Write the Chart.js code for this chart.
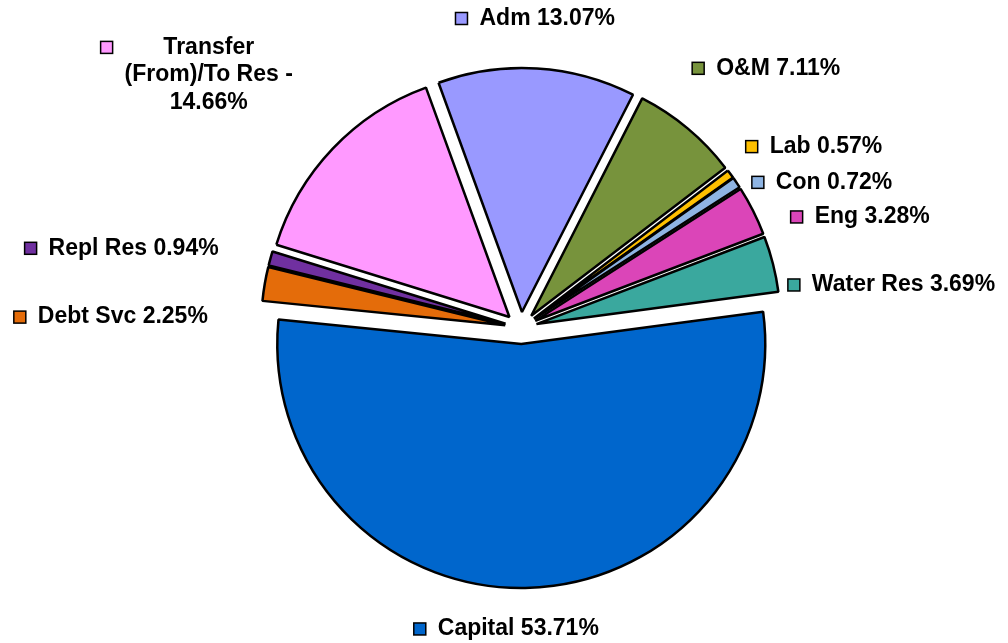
<!DOCTYPE html>
<html>
<head>
<meta charset="utf-8">
<script src="https://cdn.jsdelivr.net/npm/chart.js@4.4.1/dist/chart.umd.min.js"></script>
<style>
  html, body { margin: 0; padding: 0; background: #fff; }
  #wrap { width: 1008px; height: 643px; position: relative; }
</style>
</head>
<body>
<div id="wrap"><canvas id="pie"></canvas></div>
<script>
const categories = ['Adm', 'O&M', 'Lab', 'Con', 'Eng', 'Water Res', 'Capital', 'Debt Svc', 'Repl Res', 'Transfer (From)/To Res -'];
const shares = [13.07, 7.11, 0.57, 0.72, 3.28, 3.69, 53.71, 2.25, 0.94, 14.66];
const sliceColors = ['#9999FF', '#77933C', '#FFC000', '#8EB4E3', '#DB45B8', '#3AA89E', '#0066CC', '#E46C0A', '#7030A0', '#FF99FF'];

// labels were dragged around by hand in the original, so nudge them (px)
const labelNudge = [[-2, -46], [2, -57], [12, -25], [12, 2], [34, 8], [11, 22], [-19, 37], [-53, 34], [-48, -9], [-37, -71]];

const FONT = 'bold 23px "Liberation Sans", Arial, sans-serif';
const LINE_H = 27.5;

/* pull every slice out from the middle */
const explodePie = {
  id: 'explodePie',
  beforeDatasetDraw(chart, args, opts) {
    const ctx = chart.ctx;
    args.meta.data.forEach(arc => {
      const mid = (arc.startAngle + arc.endAngle) / 2;
      ctx.save();
      ctx.translate(Math.cos(mid) * opts.distance, Math.sin(mid) * opts.distance);
      arc.draw(ctx);
      ctx.restore();
    });
    return false;
  }
};

function wrapText(ctx, text, maxW) {
  const words = text.split(' ');
  const lines = [];
  let cur = '';
  words.forEach(w => {
    const test = cur ? cur + ' ' + w : w;
    if (cur && ctx.measureText(test).width > maxW) {
      lines.push(cur);
      cur = w;
    } else {
      cur = test;
    }
  });
  if (cur) lines.push(cur);
  return lines;
}

/* outside labels with a little legend key in front */
const outsideLabels = {
  id: 'outsideLabels',
  afterDatasetsDraw(chart, args, opts) {
    const ctx = chart.ctx;
    const meta = chart.getDatasetMeta(0);
    ctx.save();
    ctx.font = FONT;
    ctx.textBaseline = 'middle';
    meta.data.forEach((arc, i) => {
      const mid = (arc.startAngle + arc.endAngle) / 2;
      const r = arc.outerRadius + opts.gap;
      const ax = arc.x + Math.cos(mid) * r + labelNudge[i][0];
      const ay = arc.y + Math.sin(mid) * r + labelNudge[i][1];
      const text = categories[i] + ' ' + shares[i].toFixed(2) + '%';
      const lines = wrapText(ctx, text, opts.maxWidth);
      const textW = Math.max(...lines.map(l => ctx.measureText(l).width));
      const boxW = opts.key + opts.keyGap + textW;
      const boxH = lines.length * LINE_H;
      let left;
      const c = Math.cos(mid);
      if (Math.abs(c) < 0.3) left = ax - boxW / 2;
      else if (c > 0) left = ax;
      else left = ax - boxW;
      const top = ay - boxH / 2;

      // key square
      const ky = top + LINE_H / 2 - opts.key / 2;
      ctx.fillStyle = sliceColors[i];
      ctx.fillRect(left, ky, opts.key, opts.key);
      ctx.lineWidth = 1.5;
      ctx.strokeStyle = '#000';
      ctx.strokeRect(left, ky, opts.key, opts.key);

      ctx.fillStyle = '#000';
      ctx.textAlign = 'center';
      const tx = left + opts.key + opts.keyGap + textW / 2;
      lines.forEach((l, j) => {
        ctx.fillText(l, tx, top + LINE_H / 2 + j * LINE_H);
      });
    });
    ctx.restore();
  }
};

new Chart(document.getElementById('pie'), {
  type: 'pie',
  data: {
    labels: categories,
    datasets: [{
      data: shares,
      backgroundColor: sliceColors,
      borderColor: '#000',
      borderWidth: 2.5
    }]
  },
  options: {
    responsive: true,
    maintainAspectRatio: false,
    animation: false,
    events: [],
    rotation: -20,
    radius: 244,
    layout: { padding: { left: 34, right: 0, top: 13, bottom: 0 } },
    plugins: {
      legend: { display: false },
      tooltip: { enabled: false },
      explodePie: { distance: 16 },
      outsideLabels: { gap: 20, key: 12, keyGap: 12, maxWidth: 200 }
    }
  },
  plugins: [explodePie, outsideLabels]
});
</script>
</body>
</html>
